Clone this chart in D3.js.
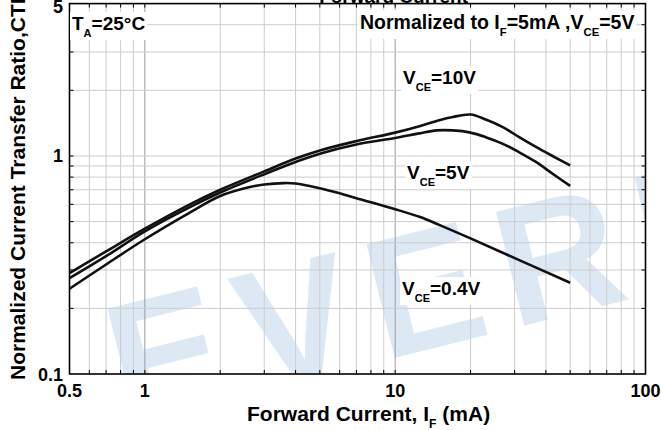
<!DOCTYPE html>
<html>
<head>
<meta charset="utf-8">
<script src="https://cdn.jsdelivr.net/npm/d3@7"></script>
<style>
body { margin: 0; background: #fff; }
svg { display: block; font-family: "Liberation Sans", Arial, sans-serif; font-weight: bold; }
</style>
</head>
<body>
<svg id="chart" width="661" height="430"></svg>
<script>
// forward current (mA) and normalized CTR
var if10 = [0.5, 0.7, 1, 1.5, 2, 3, 4, 5, 7, 10, 12.5, 15, 17, 20, 23, 26.8, 31.3, 36.5, 42.5, 50];
var ctr10 = [0.29, 0.365, 0.464, 0.597, 0.70, 0.85, 0.973, 1.06, 1.17, 1.28, 1.37, 1.46, 1.51, 1.55, 1.47, 1.36, 1.22, 1.10, 1.0, 0.906];
var if5 = [0.5, 0.7, 1, 1.5, 2, 3, 4, 5, 7, 10, 12.5, 14.6, 17, 20, 23, 26.8, 31.3, 36.5, 42.5, 50];
var ctr5 = [0.275, 0.347, 0.451, 0.58, 0.68, 0.825, 0.939, 1.025, 1.13, 1.21, 1.27, 1.31, 1.31, 1.28, 1.22, 1.14, 1.04, 0.939, 0.83, 0.729];
var if04 = [0.5, 0.7, 1, 1.5, 2, 2.6, 3, 3.6, 4, 5, 6, 7, 10, 12.5, 15, 20, 31.3, 50];
var ctr04 = [0.246, 0.318, 0.415, 0.547, 0.655, 0.718, 0.74, 0.751, 0.748, 0.711, 0.674, 0.64, 0.57, 0.526, 0.483, 0.419, 0.333, 0.262];

// grid / tick positions
var xGrid = [0.6, 0.7, 0.8, 0.9, 1, 2, 3, 4, 5, 6, 7, 8, 9, 10, 20, 30, 40, 50, 60, 70, 80, 90];
var yGrid = [0.2, 0.3, 0.4, 0.5, 0.6, 0.7, 0.8, 0.9, 1, 2, 3, 4];
var xLabels = [0.5, 1, 10, 100];
var yLabels = [0.1, 1, 5];

var svg = d3.select("#chart"),
    pL = 69.5, pR = 645.5, pT = 3.6, pB = 374;

var x = d3.scaleLog().domain([0.5, 100]).range([pL, pR]);
var y = d3.scaleLog().domain([0.1, 5]).range([pB, pT]);

svg.append("clipPath").attr("id", "plot")
  .append("rect").attr("x", pL).attr("y", pT).attr("width", pR - pL).attr("height", pB - pT);

// watermark
svg.append("g").attr("clip-path", "url(#plot)")
  .append("text")
    .attr("transform", "translate(125,425) rotate(-14)")
    .attr("font-size", 170)
    .attr("letter-spacing", 20)
    .attr("fill", "#dce8f4")
    .text("EVERLIGHT");

// grid
var grid = svg.append("g");
grid.selectAll(".vg").data(xGrid).enter().append("line")
    .attr("x1", d => x(d)).attr("x2", d => x(d))
    .attr("y1", pT).attr("y2", pB)
    .attr("stroke", d => (d == 1 || d == 10) ? "#9a9a9a" : "#cccccc")
    .attr("stroke-width", 1);
grid.selectAll(".hg").data(yGrid).enter().append("line")
    .attr("x1", pL).attr("x2", pR)
    .attr("y1", d => y(d)).attr("y2", d => y(d))
    .attr("stroke", "#cccccc")
    .attr("stroke-width", 1);

// inner ticks on all four sides
var ticks = svg.append("g").attr("stroke", "#000").attr("stroke-width", 1);
xGrid.forEach(function(d) {
  ticks.append("line").attr("x1", x(d)).attr("x2", x(d)).attr("y1", pB).attr("y2", pB - 4);
  ticks.append("line").attr("x1", x(d)).attr("x2", x(d)).attr("y1", pT).attr("y2", pT + 4);
});
yGrid.forEach(function(d) {
  ticks.append("line").attr("x1", pL).attr("x2", pL + 4).attr("y1", y(d)).attr("y2", y(d));
  ticks.append("line").attr("x1", pR).attr("x2", pR - 4).attr("y1", y(d)).attr("y2", y(d));
});

// curves
var line = d3.line()
    .x(d => x(d[0]))
    .y(d => y(d[1]))
    .curve(d3.curveCatmullRom.alpha(0.5));

[[if10, ctr10], [if5, ctr5], [if04, ctr04]].forEach(function(s) {
  svg.append("path")
    .datum(d3.zip(s[0], s[1]))
    .attr("d", line)
    .attr("fill", "none")
    .attr("stroke", "#111")
    .attr("stroke-width", 2.6);
});

// frame
svg.append("rect")
  .attr("x", pL).attr("y", pT).attr("width", pR - pL).attr("height", pB - pT)
  .attr("fill", "none").attr("stroke", "#000").attr("stroke-width", 1.6);

// tick labels
svg.selectAll(".xl").data(xLabels).enter().append("text")
  .attr("x", d => x(d)).attr("y", 397)
  .attr("text-anchor", "middle")
  .attr("font-size", 18)
  .text(d => d);
svg.selectAll(".yl").data(yLabels).enter().append("text")
  .attr("x", 63).attr("y", d => d == 5 ? 12.5 : y(d) + 6.5)
  .attr("text-anchor", "end")
  .attr("font-size", 18)
  .text(d => d);

// text with subscripts, white box behind
function label(px, py, parts, size, box) {
  var g = svg.append("g");
  var t = g.append("text").attr("x", px).attr("y", py).attr("font-size", size);
  var down = false;
  parts.forEach(function(p) {
    var s = t.append("tspan").text(p[0]);
    if (p[1] && !down) { s.attr("font-size", size * 0.58).attr("dy", 7); down = true; }
    else if (!p[1] && down) { s.attr("dy", -7); down = false; }
  });
  if (box) {
    var b = t.node().getBBox();
    g.insert("rect", "text")
      .attr("x", b.x - 2).attr("y", b.y - 1)
      .attr("width", b.width + 4).attr("height", b.height + 2)
      .attr("fill", "#fff");
  }
  return t;
}

label(72, 30, [["T"], ["A", 1], ["=25°C"]], 19, true);
label(360, 29, [["Normalized to I"], ["F", 1], ["=5mA ,V"], ["CE", 1], ["=5V"]], 19.5, true);
label(403, 84, [["V"], ["CE", 1], ["=10V"]], 19, true);
label(407, 179, [["V"], ["CE", 1], ["=5V"]], 19, true);
label(402, 295, [["V"], ["CE", 1], ["=0.4V"]], 19, true);

// axis titles
label(247, 421, [["Forward Current, I"], ["F", 1], [" (mA)"]], 21, false);

svg.append("text")
  .attr("transform", "translate(25,380) rotate(-90)")
  .attr("font-size", 21)
  .text("Normalized Current Transfer Ratio,CTR");

svg.append("text")
  .attr("x", 468).attr("y", 2.5)
  .attr("text-anchor", "end")
  .attr("font-size", 19)
  .text("Forward Current");
</script>
</body>
</html>
